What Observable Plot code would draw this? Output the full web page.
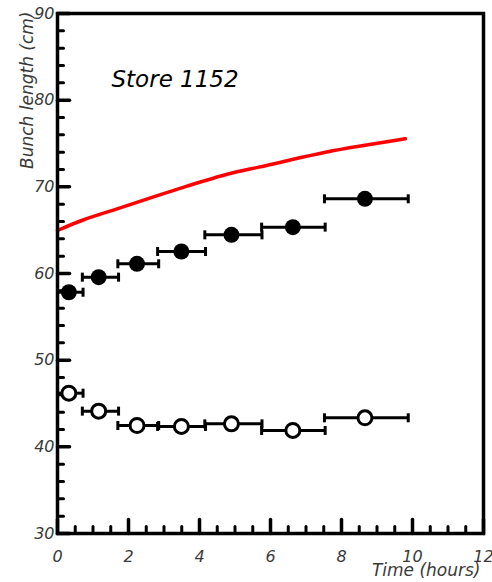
<!DOCTYPE html>
<html>
<head>
<meta charset="utf-8">
<script src="https://cdn.jsdelivr.net/npm/d3@7"></script>
<script src="https://cdn.jsdelivr.net/npm/@observablehq/plot@0.6"></script>
<style>
  body { margin: 0; background: #fff; }
  svg { display: block; }
</style>
</head>
<body>
<div id="chart"></div>
<script>
// Time bins (hours): lower edge, upper edge and centre of each measurement
const binLo  = [0.00, 0.70, 1.70, 2.82, 4.15, 5.75, 7.52];
const binHi  = [0.72, 1.72, 2.85, 4.17, 5.76, 7.54, 9.88];
const binMid = [0.32, 1.16, 2.24, 3.49, 4.90, 6.63, 8.66];

// Bunch lengths (cm) for the two measured series
const lengthFilled = [57.84, 59.58, 61.12, 62.54, 64.46, 65.35, 68.62];
const lengthOpen   = [46.19, 44.12, 42.46, 42.35, 42.65, 41.89, 43.35];

// Calculated curve
const curveTime = [0, 0.74, 1.68, 2.62, 3.56, 4.73, 5.67, 6.61, 7.55, 8.49, 9.80];
const curveLen  = [64.96, 66.2, 67.46, 68.73, 69.96, 71.39, 72.27, 73.15, 74.0, 74.69, 75.54];

// Axis ticks and labels
const xMajor = [0, 2, 4, 6, 8, 10, 12];
const xMinor = [0.5, 1, 1.5, 2.5, 3, 3.5, 4.5, 5, 5.5, 6.5, 7, 7.5, 8.5, 9, 9.5, 10.5, 11, 11.5];
const yMajor = [30, 40, 50, 60, 70, 80, 90];
const yMinor = [32, 34, 36, 38, 42, 44, 46, 48, 52, 54, 56, 58, 62, 64, 66, 68, 72, 74, 76, 78, 82, 84, 86, 88];

const titleText = "Store 1152";
const xTitle = "Time (hours)";
const yTitle = "Bunch length (cm)";

const filled = binMid.map((t, i) => ({t, lo: binLo[i], hi: binHi[i], v: lengthFilled[i]}));
const open   = binMid.map((t, i) => ({t, lo: binLo[i], hi: binHi[i], v: lengthOpen[i]}));
const curve  = curveTime.map((t, i) => ({t, v: curveLen[i]}));

// vertical bar used for the error-bar end caps
const capSymbol = {
  draw(context, size) {
    const h = Math.sqrt(size / Math.PI);
    context.moveTo(0, -h);
    context.lineTo(0, h);
  }
};

// straight tick drawn from the axis into the plot
const tickShape = {
  draw(context, l) {
    context.moveTo(0, 0);
    context.lineTo(0, -l);
  }
};

// grey lettering for axis labels
const labelInk = {fill: "#3a3a3a"};

const errorBars = (data) => [
  Plot.ruleY(data, {y: "v", x1: "lo", x2: "hi", stroke: "black", strokeWidth: 3}),
  Plot.dot(data, {x: "lo", y: "v", symbol: capSymbol, r: 4.5, stroke: "black", strokeWidth: 3}),
  Plot.dot(data, {x: "hi", y: "v", symbol: capSymbol, r: 4.5, stroke: "black", strokeWidth: 3})
];

const chart = Plot.plot({
  width: 492,
  height: 582,
  marginLeft: 57,
  marginRight: 9,
  marginTop: 13,
  marginBottom: 49,
  x: {domain: [0, 12], axis: null},
  y: {domain: [30, 90], axis: null},
  style: {fontFamily: "'DejaVu Sans', sans-serif", fontStyle: "italic", background: "white", overflow: "visible"},
  marks: [
    // inward ticks on the left and bottom axes
    Plot.vector(yMinor, {y: d => d, frameAnchor: "left", rotate: 90, anchor: "start", length: 6,
      shape: tickShape, stroke: "black", strokeWidth: 3}),
    Plot.vector(yMajor, {y: d => d, frameAnchor: "left", rotate: 90, anchor: "start", length: 12,
      shape: tickShape, stroke: "black", strokeWidth: 3.5}),
    Plot.vector(xMinor, {x: d => d, frameAnchor: "bottom", rotate: 0, anchor: "start", length: 7,
      shape: tickShape, stroke: "black", strokeWidth: 3}),
    Plot.vector(xMajor, {x: d => d, frameAnchor: "bottom", rotate: 0, anchor: "start", length: 14,
      shape: tickShape, stroke: "black", strokeWidth: 3.5}),
    // tick labels
    Plot.text(yMajor, {y: d => d, text: d => d, frameAnchor: "left", textAnchor: "end", dx: -3,
      fontSize: 16, ...labelInk}),
    Plot.text(xMajor, {x: d => d, text: d => d, frameAnchor: "bottom", lineAnchor: "top", dy: 17,
      fontSize: 16, ...labelInk}),
    // axis titles
    Plot.text([yTitle], {text: d => d, frameAnchor: "top-left", rotate: -90, textAnchor: "end",
      dx: -37, dy: -2, fontSize: 17, ...labelInk}),
    Plot.text([xTitle], {text: d => d, frameAnchor: "bottom-right", textAnchor: "end",
      dx: -3, dy: 42, fontSize: 17, ...labelInk}),
    Plot.text([titleText], {text: d => d, frameAnchor: "top-left", textAnchor: "start",
      dx: 54, dy: 57, fontSize: 23, fill: "black"}),
    // calculated curve
    Plot.line(curve, {x: "t", y: "v", stroke: "#ff0000", strokeWidth: 3.5, curve: "natural"}),
    // measured series with horizontal error bars
    ...errorBars(filled),
    ...errorBars(open),
    Plot.dot(filled, {x: "t", y: "v", r: 8, fill: "black", stroke: "none"}),
    Plot.dot(open, {x: "t", y: "v", r: 7, fill: "white", stroke: "black", strokeWidth: 3}),
    Plot.frame({stroke: "black", strokeWidth: 3.5})
  ]
});

document.getElementById("chart").append(chart);
</script>
</body>
</html>
